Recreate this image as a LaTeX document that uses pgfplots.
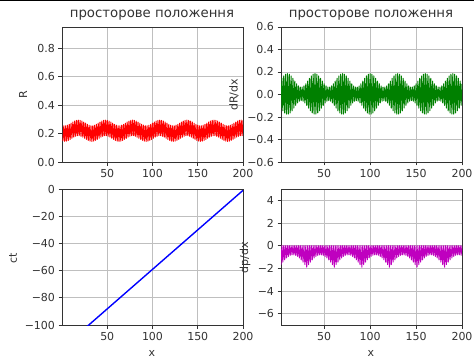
\documentclass[border=0pt]{standalone}
\usepackage{fontspec}
\setmainfont{DejaVu Sans}
\usepackage{pgfplots}
\pgfplotsset{compat=1.18}
\definecolor{mplred}{rgb}{1,0,0}
\definecolor{mplgreen}{rgb}{0,0.5,0}
\definecolor{mplblue}{rgb}{0,0,1}
\definecolor{mplmag}{rgb}{0.75,0,0.75}
\definecolor{gridc}{rgb}{0.75,0.75,0.75}
\pgfplotsset{myax/.style={scale only axis, width=181pt, height=135pt,
  axis line style={black!80, line width=0.9pt},
  grid=major, grid style={color=gridc, line width=0.8pt},
  tick align=outside, major tick length=3.5pt,
  tick style={black!80, line width=0.8pt},
  xtick={50,100,150,200}, xmax=200,
  xtick pos=bottom, ytick pos=left,
  tick label style={font=\fontsize{11}{13}\selectfont, text=black!80},
  /pgf/number format/assume math mode=true,
  axis background/.style={fill=white}}}
\newcommand{\lab}{\fontsize{11}{13}\selectfont}
\newcommand{\ttl}{\fontsize{13.3}{16}\selectfont}
\begin{document}
\begin{tikzpicture}[x=1pt,y=1pt]
\useasboundingbox (0,0) rectangle (474,362);
\fill[white] (0,0) rectangle (474,362);
% top-left
\begin{axis}[myax, at={(62pt,200pt)}, anchor=south west, xmin=0, ymin=0, ymax=0.95,
  ytick={0,0.2,0.4,0.6,0.8}, yticklabels={0.0,0.2,0.4,0.6,0.8}]
\addplot[mplred, line width=1pt, line join=round] coordinates {
(1,0.147)(2,0.255)(3,0.145)(4,0.255)(5,0.147)(6,0.259)(7,0.152)(8,0.265)(9,0.159)(10,0.273)(11,0.167)(12,0.281)(13,0.175)(14,0.288)(15,0.181)(16,0.293)(17,0.185)
(18,0.295)(19,0.185)(20,0.293)(21,0.181)(22,0.288)(23,0.175)(24,0.281)(25,0.167)(26,0.273)(27,0.159)(28,0.265)(29,0.152)(30,0.259)(31,0.147)(32,0.255)(33,0.145)(34,0.255)(35,0.147)(36,0.259)(37,0.152)(38,0.265)(39,0.159)(40,0.273)(41,0.167)(42,0.281)(43,0.175)(44,0.288)(45,0.181)(46,0.293)(47,0.185)
(48,0.295)(49,0.185)(50,0.293)(51,0.181)(52,0.288)(53,0.175)(54,0.281)(55,0.167)(56,0.273)(57,0.159)(58,0.265)(59,0.152)(60,0.259)(61,0.147)(62,0.255)(63,0.145)(64,0.255)(65,0.147)(66,0.259)(67,0.152)(68,0.265)(69,0.159)(70,0.273)(71,0.167)(72,0.281)(73,0.175)(74,0.288)(75,0.181)(76,0.293)(77,0.185)
(78,0.295)(79,0.185)(80,0.293)(81,0.181)(82,0.288)(83,0.175)(84,0.281)(85,0.167)(86,0.273)(87,0.159)(88,0.265)(89,0.152)(90,0.259)(91,0.147)(92,0.255)(93,0.145)(94,0.255)(95,0.147)(96,0.259)(97,0.152)(98,0.265)(99,0.159)(100,0.273)(101,0.167)(102,0.281)(103,0.175)(104,0.288)(105,0.181)(106,0.293)(107,0.185)
(108,0.295)(109,0.185)(110,0.293)(111,0.181)(112,0.288)(113,0.175)(114,0.281)(115,0.167)(116,0.273)(117,0.159)(118,0.265)(119,0.152)(120,0.259)(121,0.147)(122,0.255)(123,0.145)(124,0.255)(125,0.147)(126,0.259)(127,0.152)(128,0.265)(129,0.159)(130,0.273)(131,0.167)(132,0.281)(133,0.175)(134,0.288)(135,0.181)(136,0.293)(137,0.185)
(138,0.295)(139,0.185)(140,0.293)(141,0.181)(142,0.288)(143,0.175)(144,0.281)(145,0.167)(146,0.273)(147,0.159)(148,0.265)(149,0.152)(150,0.259)(151,0.147)(152,0.255)(153,0.145)(154,0.255)(155,0.147)(156,0.259)(157,0.152)(158,0.265)(159,0.159)(160,0.273)(161,0.167)(162,0.281)(163,0.175)(164,0.288)(165,0.181)(166,0.293)(167,0.185)
(168,0.295)(169,0.185)(170,0.293)(171,0.181)(172,0.288)(173,0.175)(174,0.281)(175,0.167)(176,0.273)(177,0.159)(178,0.265)(179,0.152)(180,0.259)(181,0.147)(182,0.255)(183,0.145)(184,0.255)(185,0.147)(186,0.259)(187,0.152)(188,0.265)(189,0.159)(190,0.273)(191,0.167)(192,0.281)(193,0.175)(194,0.288)(195,0.181)(196,0.293)(197,0.185)
(198,0.295)(199,0.185)(200,0.293)};
\end{axis}
% top-right
\begin{axis}[myax, at={(281pt,200pt)}, anchor=south west, xmin=3, ymin=-0.6, ymax=0.6,
  ytick={-0.6,-0.4,-0.2,0,0.2,0.4,0.6}, yticklabels={−0.6,−0.4,−0.2,0.0,0.2,0.4,0.6}]
\addplot[mplgreen, line width=1pt, line join=round] coordinates {
(3,-0.121)(4,0.144)(5,-0.145)(6,0.165)(7,-0.164)(8,0.180)(9,-0.174)
(10,0.185)(11,-0.174)(12,0.180)(13,-0.164)(14,0.165)(15,-0.145)(16,0.144)(17,-0.121)(18,0.119)(19,-0.096)(20,0.095)(21,-0.075)(22,0.076)(23,-0.060)(24,0.066)(25,-0.055)(26,0.066)(27,-0.060)(28,0.076)(29,-0.075)(30,0.095)(31,-0.096)(32,0.119)(33,-0.121)(34,0.144)(35,-0.145)(36,0.165)(37,-0.164)(38,0.180)(39,-0.174)
(40,0.185)(41,-0.174)(42,0.180)(43,-0.164)(44,0.165)(45,-0.145)(46,0.144)(47,-0.121)(48,0.119)(49,-0.096)(50,0.095)(51,-0.075)(52,0.076)(53,-0.060)(54,0.066)(55,-0.055)(56,0.066)(57,-0.060)(58,0.076)(59,-0.075)(60,0.095)(61,-0.096)(62,0.119)(63,-0.121)(64,0.144)(65,-0.145)(66,0.165)(67,-0.164)(68,0.180)(69,-0.174)
(70,0.185)(71,-0.174)(72,0.180)(73,-0.164)(74,0.165)(75,-0.145)(76,0.144)(77,-0.121)(78,0.119)(79,-0.096)(80,0.095)(81,-0.075)(82,0.076)(83,-0.060)(84,0.066)(85,-0.055)(86,0.066)(87,-0.060)(88,0.076)(89,-0.075)(90,0.095)(91,-0.096)(92,0.119)(93,-0.121)(94,0.144)(95,-0.145)(96,0.165)(97,-0.164)(98,0.180)(99,-0.174)
(100,0.185)(101,-0.174)(102,0.180)(103,-0.164)(104,0.165)(105,-0.145)(106,0.144)(107,-0.121)(108,0.119)(109,-0.096)(110,0.095)(111,-0.075)(112,0.076)(113,-0.060)(114,0.066)(115,-0.055)(116,0.066)(117,-0.060)(118,0.076)(119,-0.075)(120,0.095)(121,-0.096)(122,0.119)(123,-0.121)(124,0.144)(125,-0.145)(126,0.165)(127,-0.164)(128,0.180)(129,-0.174)
(130,0.185)(131,-0.174)(132,0.180)(133,-0.164)(134,0.165)(135,-0.145)(136,0.144)(137,-0.121)(138,0.119)(139,-0.096)(140,0.095)(141,-0.075)(142,0.076)(143,-0.060)(144,0.066)(145,-0.055)(146,0.066)(147,-0.060)(148,0.076)(149,-0.075)(150,0.095)(151,-0.096)(152,0.119)(153,-0.121)(154,0.144)(155,-0.145)(156,0.165)(157,-0.164)(158,0.180)(159,-0.174)
(160,0.185)(161,-0.174)(162,0.180)(163,-0.164)(164,0.165)(165,-0.145)(166,0.144)(167,-0.121)(168,0.119)(169,-0.096)(170,0.095)(171,-0.075)(172,0.076)(173,-0.060)(174,0.066)(175,-0.055)(176,0.066)(177,-0.060)(178,0.076)(179,-0.075)(180,0.095)(181,-0.096)(182,0.119)(183,-0.121)(184,0.144)(185,-0.145)(186,0.165)(187,-0.164)(188,0.180)(189,-0.174)
(190,0.185)(191,-0.174)(192,0.180)(193,-0.164)(194,0.165)(195,-0.145)(196,0.144)(197,-0.121)(198,0.119)(199,-0.096)(200,0.095)};
\end{axis}
% bottom-left
\begin{axis}[myax, at={(62pt,37pt)}, anchor=south west, height=136pt, xmin=0, ymin=-100, ymax=0,
  ytick={-100,-80,-60,-40,-20,0}, yticklabels={−100,−80,−60,−40,−20,0}]
\addplot[mplblue, line width=1.4pt] coordinates {(1,-116.6)(200,-1.0)};
\end{axis}
% bottom-right
\begin{axis}[myax, at={(281pt,37pt)}, anchor=south west, height=136pt, xmin=3, ymin=-7, ymax=5,
  ytick={-6,-4,-2,0,2,4}, yticklabels={−6,−4,−2,0,2,4}]
\addplot[mplmag, line width=1pt, line join=round] coordinates {
(3,-1.67)(4,0)(5,-1.45)(6,0)(7,-1.25)(8,0)(9,-1.08)(10,0)(11,-0.95)(12,0)(13,-0.85)(14,0)(15,-0.81)(16,0)
(17,-0.81)(18,0)(19,-0.85)(20,0)(21,-0.95)(22,0)(23,-1.08)(24,0)(25,-1.25)(26,0)(27,-1.45)(28,0)(29,-1.67)(30,0)(31,-1.90)(32,0)(33,-1.67)(34,0)(35,-1.45)(36,0)(37,-1.25)(38,0)(39,-1.08)(40,0)(41,-0.95)(42,0)(43,-0.85)(44,0)(45,-0.81)(46,0)
(47,-0.81)(48,0)(49,-0.85)(50,0)(51,-0.95)(52,0)(53,-1.08)(54,0)(55,-1.25)(56,0)(57,-1.45)(58,0)(59,-1.67)(60,0)(61,-1.90)(62,0)(63,-1.67)(64,0)(65,-1.45)(66,0)(67,-1.25)(68,0)(69,-1.08)(70,0)(71,-0.95)(72,0)(73,-0.85)(74,0)(75,-0.81)(76,0)
(77,-0.81)(78,0)(79,-0.85)(80,0)(81,-0.95)(82,0)(83,-1.08)(84,0)(85,-1.25)(86,0)(87,-1.45)(88,0)(89,-1.67)(90,0)(91,-1.90)(92,0)(93,-1.67)(94,0)(95,-1.45)(96,0)(97,-1.25)(98,0)(99,-1.08)(100,0)(101,-0.95)(102,0)(103,-0.85)(104,0)(105,-0.81)(106,0)
(107,-0.81)(108,0)(109,-0.85)(110,0)(111,-0.95)(112,0)(113,-1.08)(114,0)(115,-1.25)(116,0)(117,-1.45)(118,0)(119,-1.67)(120,0)(121,-1.90)(122,0)(123,-1.67)(124,0)(125,-1.45)(126,0)(127,-1.25)(128,0)(129,-1.08)(130,0)(131,-0.95)(132,0)(133,-0.85)(134,0)(135,-0.81)(136,0)
(137,-0.81)(138,0)(139,-0.85)(140,0)(141,-0.95)(142,0)(143,-1.08)(144,0)(145,-1.25)(146,0)(147,-1.45)(148,0)(149,-1.67)(150,0)(151,-1.90)(152,0)(153,-1.67)(154,0)(155,-1.45)(156,0)(157,-1.25)(158,0)(159,-1.08)(160,0)(161,-0.95)(162,0)(163,-0.85)(164,0)(165,-0.81)(166,0)
(167,-0.81)(168,0)(169,-0.85)(170,0)(171,-0.95)(172,0)(173,-1.08)(174,0)(175,-1.25)(176,0)(177,-1.45)(178,0)(179,-1.67)(180,0)(181,-1.90)(182,0)(183,-1.67)(184,0)(185,-1.45)(186,0)(187,-1.25)(188,0)(189,-1.08)(190,0)(191,-0.95)(192,0)(193,-0.85)(194,0)(195,-0.81)(196,0)
(197,-0.81)(198,0)(199,-0.85)(200,0)};
\end{axis}
% titles and labels
\node[font=\ttl, text=black!80] at (152,347) {просторове положення};
\node[font=\ttl, text=black!80] at (371,347) {просторове положення};
\node[font=\lab, text=black!80, rotate=90] at (23,267) {R};
\node[font=\lab, text=black!80, rotate=90] at (234,267) {dR/dx};
\node[font=\lab, text=black!80, rotate=90] at (13,104) {ct};
\node[font=\lab, text=black!80, rotate=90] at (245,104) {dp/dx};
\node[font=\lab, text=black!80] at (152,9) {x};
\node[font=\lab, text=black!80] at (371,9) {x};
\draw[black, line width=1pt] (0,361.5) -- (474,361.5);
\end{tikzpicture}
\end{document}
